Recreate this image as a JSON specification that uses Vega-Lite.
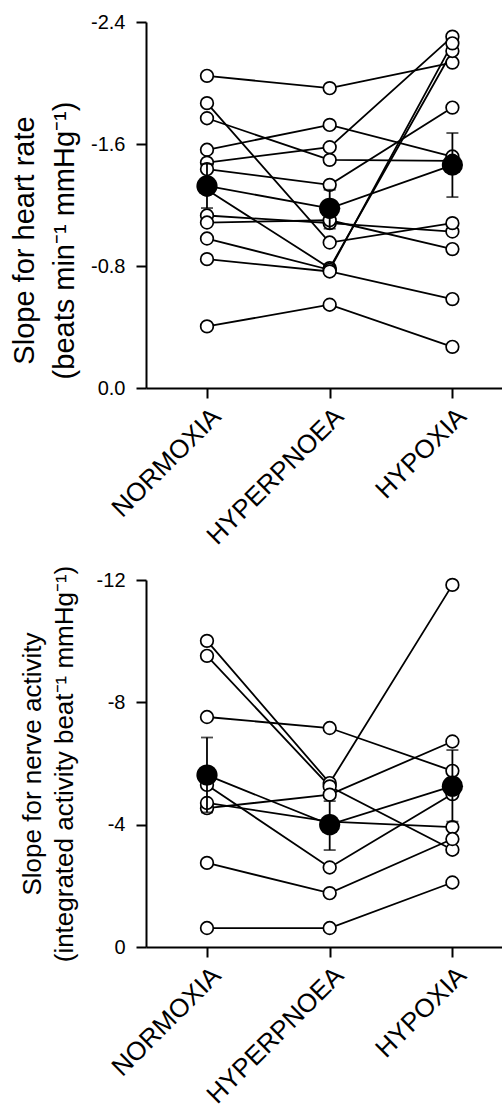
{
  "$schema": "https://vega.github.io/schema/vega-lite/v6.json",
  "padding": {"left": 10, "top": 12, "right": 0, "bottom": 0},
  "background": "white",
  "config": {
    "view": {"stroke": null},
    "font": "Liberation Sans",
    "axis": {
      "grid": false,
      "domainColor": "black",
      "domainWidth": 2,
      "tickColor": "black",
      "tickWidth": 2,
      "tickSize": 10,
      "labelColor": "black",
      "titleColor": "black",
      "labelFont": "Liberation Sans",
      "titleFont": "Liberation Sans",
      "titleFontWeight": "normal",
      "labelLimit": 0
    }
  },
  "datasets": {
    "hr": [
      {"subject": "s1", "cond": "NORMOXIA", "value": -2.047}, {"subject": "s1", "cond": "HYPERPNOEA", "value": -1.966}, {"subject": "s1", "cond": "HYPOXIA", "value": -2.134},
      {"subject": "s2", "cond": "NORMOXIA", "value": -1.562}, {"subject": "s2", "cond": "HYPERPNOEA", "value": -1.725}, {"subject": "s2", "cond": "HYPOXIA", "value": -1.518},
      {"subject": "s3", "cond": "NORMOXIA", "value": -1.478}, {"subject": "s3", "cond": "HYPERPNOEA", "value": -1.579}, {"subject": "s3", "cond": "HYPOXIA", "value": -2.304},
      {"subject": "s4", "cond": "NORMOXIA", "value": -1.769}, {"subject": "s4", "cond": "HYPERPNOEA", "value": -1.496}, {"subject": "s4", "cond": "HYPOXIA", "value": -1.49},
      {"subject": "s5", "cond": "NORMOXIA", "value": -1.435}, {"subject": "s5", "cond": "HYPERPNOEA", "value": -1.332}, {"subject": "s5", "cond": "HYPOXIA", "value": -1.839},
      {"subject": "s6", "cond": "NORMOXIA", "value": -1.131}, {"subject": "s6", "cond": "HYPERPNOEA", "value": -1.081}, {"subject": "s6", "cond": "HYPOXIA", "value": -1.026},
      {"subject": "s7", "cond": "NORMOXIA", "value": -1.085}, {"subject": "s7", "cond": "HYPERPNOEA", "value": -1.1}, {"subject": "s7", "cond": "HYPOXIA", "value": -0.911},
      {"subject": "s8", "cond": "NORMOXIA", "value": -1.868}, {"subject": "s8", "cond": "HYPERPNOEA", "value": -0.954}, {"subject": "s8", "cond": "HYPOXIA", "value": -1.081},
      {"subject": "s9", "cond": "NORMOXIA", "value": -1.3}, {"subject": "s9", "cond": "HYPERPNOEA", "value": -0.786}, {"subject": "s9", "cond": "HYPOXIA", "value": -2.21},
      {"subject": "s10", "cond": "NORMOXIA", "value": -0.98}, {"subject": "s10", "cond": "HYPERPNOEA", "value": -0.775}, {"subject": "s10", "cond": "HYPOXIA", "value": -2.26},
      {"subject": "s11", "cond": "NORMOXIA", "value": -0.845}, {"subject": "s11", "cond": "HYPERPNOEA", "value": -0.764}, {"subject": "s11", "cond": "HYPOXIA", "value": -0.583},
      {"subject": "s12", "cond": "NORMOXIA", "value": -0.404}, {"subject": "s12", "cond": "HYPERPNOEA", "value": -0.546}, {"subject": "s12", "cond": "HYPOXIA", "value": -0.27}
    ],
    "hrMean": [
      {"cond": "NORMOXIA", "value": -1.325, "lo": -1.18, "hi": -1.47},
      {"cond": "HYPERPNOEA", "value": -1.178, "lo": -1.045, "hi": -1.3},
      {"cond": "HYPOXIA", "value": -1.462, "lo": -1.252, "hi": -1.672}
    ],
    "na": [
      {"subject": "s1", "cond": "NORMOXIA", "value": -10.01}, {"subject": "s1", "cond": "HYPERPNOEA", "value": -5.36}, {"subject": "s1", "cond": "HYPOXIA", "value": -11.84},
      {"subject": "s2", "cond": "NORMOXIA", "value": -9.52}, {"subject": "s2", "cond": "HYPERPNOEA", "value": -5.25}, {"subject": "s2", "cond": "HYPOXIA", "value": -3.18},
      {"subject": "s3", "cond": "NORMOXIA", "value": -4.54}, {"subject": "s3", "cond": "HYPERPNOEA", "value": -4.98}, {"subject": "s3", "cond": "HYPOXIA", "value": -6.72},
      {"subject": "s4", "cond": "NORMOXIA", "value": -7.52}, {"subject": "s4", "cond": "HYPERPNOEA", "value": -7.16}, {"subject": "s4", "cond": "HYPOXIA", "value": -5.76},
      {"subject": "s5", "cond": "NORMOXIA", "value": -4.71}, {"subject": "s5", "cond": "HYPERPNOEA", "value": -4.1}, {"subject": "s5", "cond": "HYPOXIA", "value": -3.92},
      {"subject": "s6", "cond": "NORMOXIA", "value": -5.3}, {"subject": "s6", "cond": "HYPERPNOEA", "value": -2.6}, {"subject": "s6", "cond": "HYPOXIA", "value": -5.0},
      {"subject": "s7", "cond": "NORMOXIA", "value": -2.75}, {"subject": "s7", "cond": "HYPERPNOEA", "value": -1.76}, {"subject": "s7", "cond": "HYPOXIA", "value": -3.53},
      {"subject": "s8", "cond": "NORMOXIA", "value": -0.62}, {"subject": "s8", "cond": "HYPERPNOEA", "value": -0.62}, {"subject": "s8", "cond": "HYPOXIA", "value": -2.11}
    ],
    "naMean": [
      {"cond": "NORMOXIA", "value": -5.62, "lo": -4.4, "hi": -6.85},
      {"cond": "HYPERPNOEA", "value": -4.0, "lo": -3.17, "hi": -4.77},
      {"cond": "HYPOXIA", "value": -5.26, "lo": -4.1, "hi": -6.44}
    ]
  },
  "vconcat": [
    {
      "width": 356,
      "height": 366,
      "encoding": {
        "x": {
          "field": "cond", "type": "nominal",
          "sort": ["NORMOXIA", "HYPERPNOEA", "HYPOXIA"],
          "scale": {"type": "point", "padding": 0.4506, "align": 0.5515},
          "axis": {"title": null, "labelAngle": -45, "labelAlign": "right", "labelBaseline": "top", "labelFontSize": 26, "labelPadding": 5}
        },
        "y": {
          "field": "value", "type": "quantitative",
          "scale": {"domain": [-2.4, 0], "reverse": true, "nice": false, "zero": false},
          "axis": {"values": [-2.4, -1.6, -0.8, 0], "format": ".1f", "labelExpr": "replace(datum.label, '−', '-')", "labelFontSize": 20, "labelPadding": 11, "titleFontSize": 29, "titlePadding": 11, "titleLineHeight": 40, "titleY": 218,
                   "title": ["Slope for heart rate", "(beats min⁻¹ mmHg⁻¹)"]}
        }
      },
      "layer": [
        {"data": {"name": "hr"}, "mark": {"type": "line", "color": "black", "strokeWidth": 1.8}, "encoding": {"detail": {"field": "subject"}}},
        {"data": {"name": "hr"}, "mark": {"type": "point", "shape": "circle", "filled": true, "fill": "white", "stroke": "black", "strokeWidth": 1.7, "size": 160, "opacity": 1}},
        {"data": {"name": "hrMean"}, "transform": [{"fold": ["lo", "hi"], "as": ["bound", "value"]}], "mark": {"type": "line", "color": "black", "strokeWidth": 1.8}, "encoding": {"detail": {"field": "cond"}}},
        {"data": {"name": "hrMean"}, "transform": [{"fold": ["lo", "hi"], "as": ["bound", "value"]}], "mark": {"type": "tick", "color": "black", "size": 12, "thickness": 1.8, "orient": "horizontal"}},
        {"data": {"name": "hrMean"}, "mark": {"type": "line", "color": "black", "strokeWidth": 1.8}},
        {"data": {"name": "hrMean"}, "mark": {"type": "point", "shape": "circle", "filled": true, "color": "black", "size": 450, "opacity": 1}}
      ]
    },
    {
      "width": 356,
      "height": 367,
      "encoding": {
        "x": {
          "field": "cond", "type": "nominal",
          "sort": ["NORMOXIA", "HYPERPNOEA", "HYPOXIA"],
          "scale": {"type": "point", "padding": 0.4506, "align": 0.5515},
          "axis": {"title": null, "labelAngle": -45, "labelAlign": "right", "labelBaseline": "top", "labelFontSize": 26, "labelPadding": 5}
        },
        "y": {
          "field": "value", "type": "quantitative",
          "scale": {"domain": [-12, 0], "reverse": true, "nice": false, "zero": false},
          "axis": {"values": [-12, -8, -4, 0], "format": "d", "labelExpr": "replace(datum.label, '−', '-')", "labelFontSize": 20, "labelPadding": 11, "titleFontSize": 26, "titlePadding": 19, "titleLineHeight": 32,
                   "title": ["Slope for nerve activity", "(integrated activity beat⁻¹ mmHg⁻¹)"]}
        }
      },
      "layer": [
        {"data": {"name": "na"}, "mark": {"type": "line", "color": "black", "strokeWidth": 1.8}, "encoding": {"detail": {"field": "subject"}}},
        {"data": {"name": "na"}, "mark": {"type": "point", "shape": "circle", "filled": true, "fill": "white", "stroke": "black", "strokeWidth": 1.7, "size": 160, "opacity": 1}},
        {"data": {"name": "naMean"}, "transform": [{"fold": ["lo", "hi"], "as": ["bound", "value"]}], "mark": {"type": "line", "color": "black", "strokeWidth": 1.8}, "encoding": {"detail": {"field": "cond"}}},
        {"data": {"name": "naMean"}, "transform": [{"fold": ["lo", "hi"], "as": ["bound", "value"]}], "mark": {"type": "tick", "color": "black", "size": 12, "thickness": 1.8, "orient": "horizontal"}},
        {"data": {"name": "naMean"}, "mark": {"type": "line", "color": "black", "strokeWidth": 1.8}},
        {"data": {"name": "naMean"}, "mark": {"type": "point", "shape": "circle", "filled": true, "color": "black", "size": 450, "opacity": 1}}
      ]
    }
  ],
  "spacing": 192,
  "bounds": "flush"
}
